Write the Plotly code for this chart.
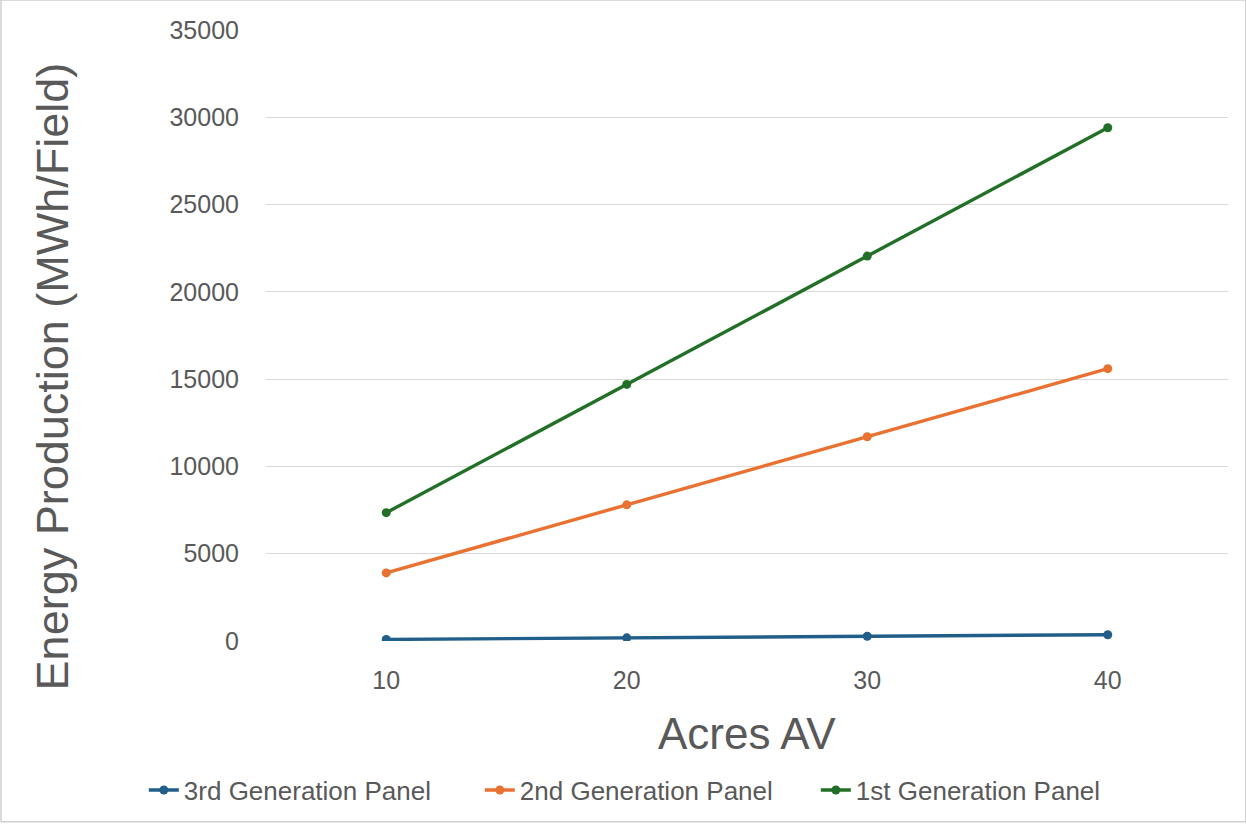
import plotly.graph_objects as go

acres = ["10", "20", "30", "40"]
gen3 = [90, 180, 270, 360]
gen2 = [3900, 7800, 11700, 15600]
gen1 = [7350, 14700, 22050, 29400]
y_ticks = [0, 5000, 10000, 15000, 20000, 25000, 30000, 35000]
y_labels = [str(v) for v in y_ticks]

series = [
    ("3rd Generation Panel", gen3, "#215F8A"),
    ("2nd Generation Panel", gen2, "#E97132"),
    ("1st Generation Panel", gen1, "#227027"),
]

FONT = "Liberation Sans, Arial, sans-serif"
GREY = "#595959"

fig = go.Figure()
for name, vals, color in series:
    fig.add_trace(go.Scatter(
        x=acres, y=vals, name=name, mode="lines+markers",
        line=dict(color=color, width=3.4),
        marker=dict(color=color, size=9),
    ))

fig.update_layout(
    width=1246, height=824,
    margin=dict(l=266, r=18, t=30, b=182),
    paper_bgcolor="white", plot_bgcolor="white",
    font=dict(family=FONT, color=GREY),
    showlegend=True,
    legend=dict(
        orientation="h", x=-0.127, xanchor="left", y=-0.242, yanchor="middle",
        font=dict(size=26, family=FONT, color=GREY),
        itemwidth=30, tracegroupgap=0,
        entrywidth=291, entrywidthmode="pixels",
    ),
    xaxis=dict(
        type="category", range=[-0.5, 3.5], showgrid=False, zeroline=False,
        showline=False, ticks="", tickfont=dict(size=25, color=GREY),
        ticklabelstandoff=22,
    ),
    yaxis=dict(
        range=[0, 35000], tickvals=y_ticks, ticktext=y_labels,
        showgrid=True, gridcolor="#D9D9D9", gridwidth=1, zeroline=False,
        showline=False, ticks="", tickfont=dict(size=25, color=GREY),
        ticklabelstandoff=26,
    ),
    annotations=[
        dict(text="Acres AV", xref="paper", yref="paper", x=0.5, y=-0.152,
             xanchor="center", yanchor="middle", showarrow=False,
             font=dict(size=44, color=GREY, family=FONT)),
        dict(text="Energy Production (MWh/Field)", xref="paper", yref="paper",
             x=-0.2225, y=0.433, xanchor="center", yanchor="middle", textangle=-90,
             showarrow=False, font=dict(size=45, color=GREY, family=FONT)),
    ],
    shapes=[
        dict(type="rect", xref="paper", yref="paper", x0=-0.2755, x1=1.0185,
             y0=-0.296, y1=1.049, line=dict(color="#D0D0D0", width=1.5)),
    ],
)

fig.write_html("out.html")
